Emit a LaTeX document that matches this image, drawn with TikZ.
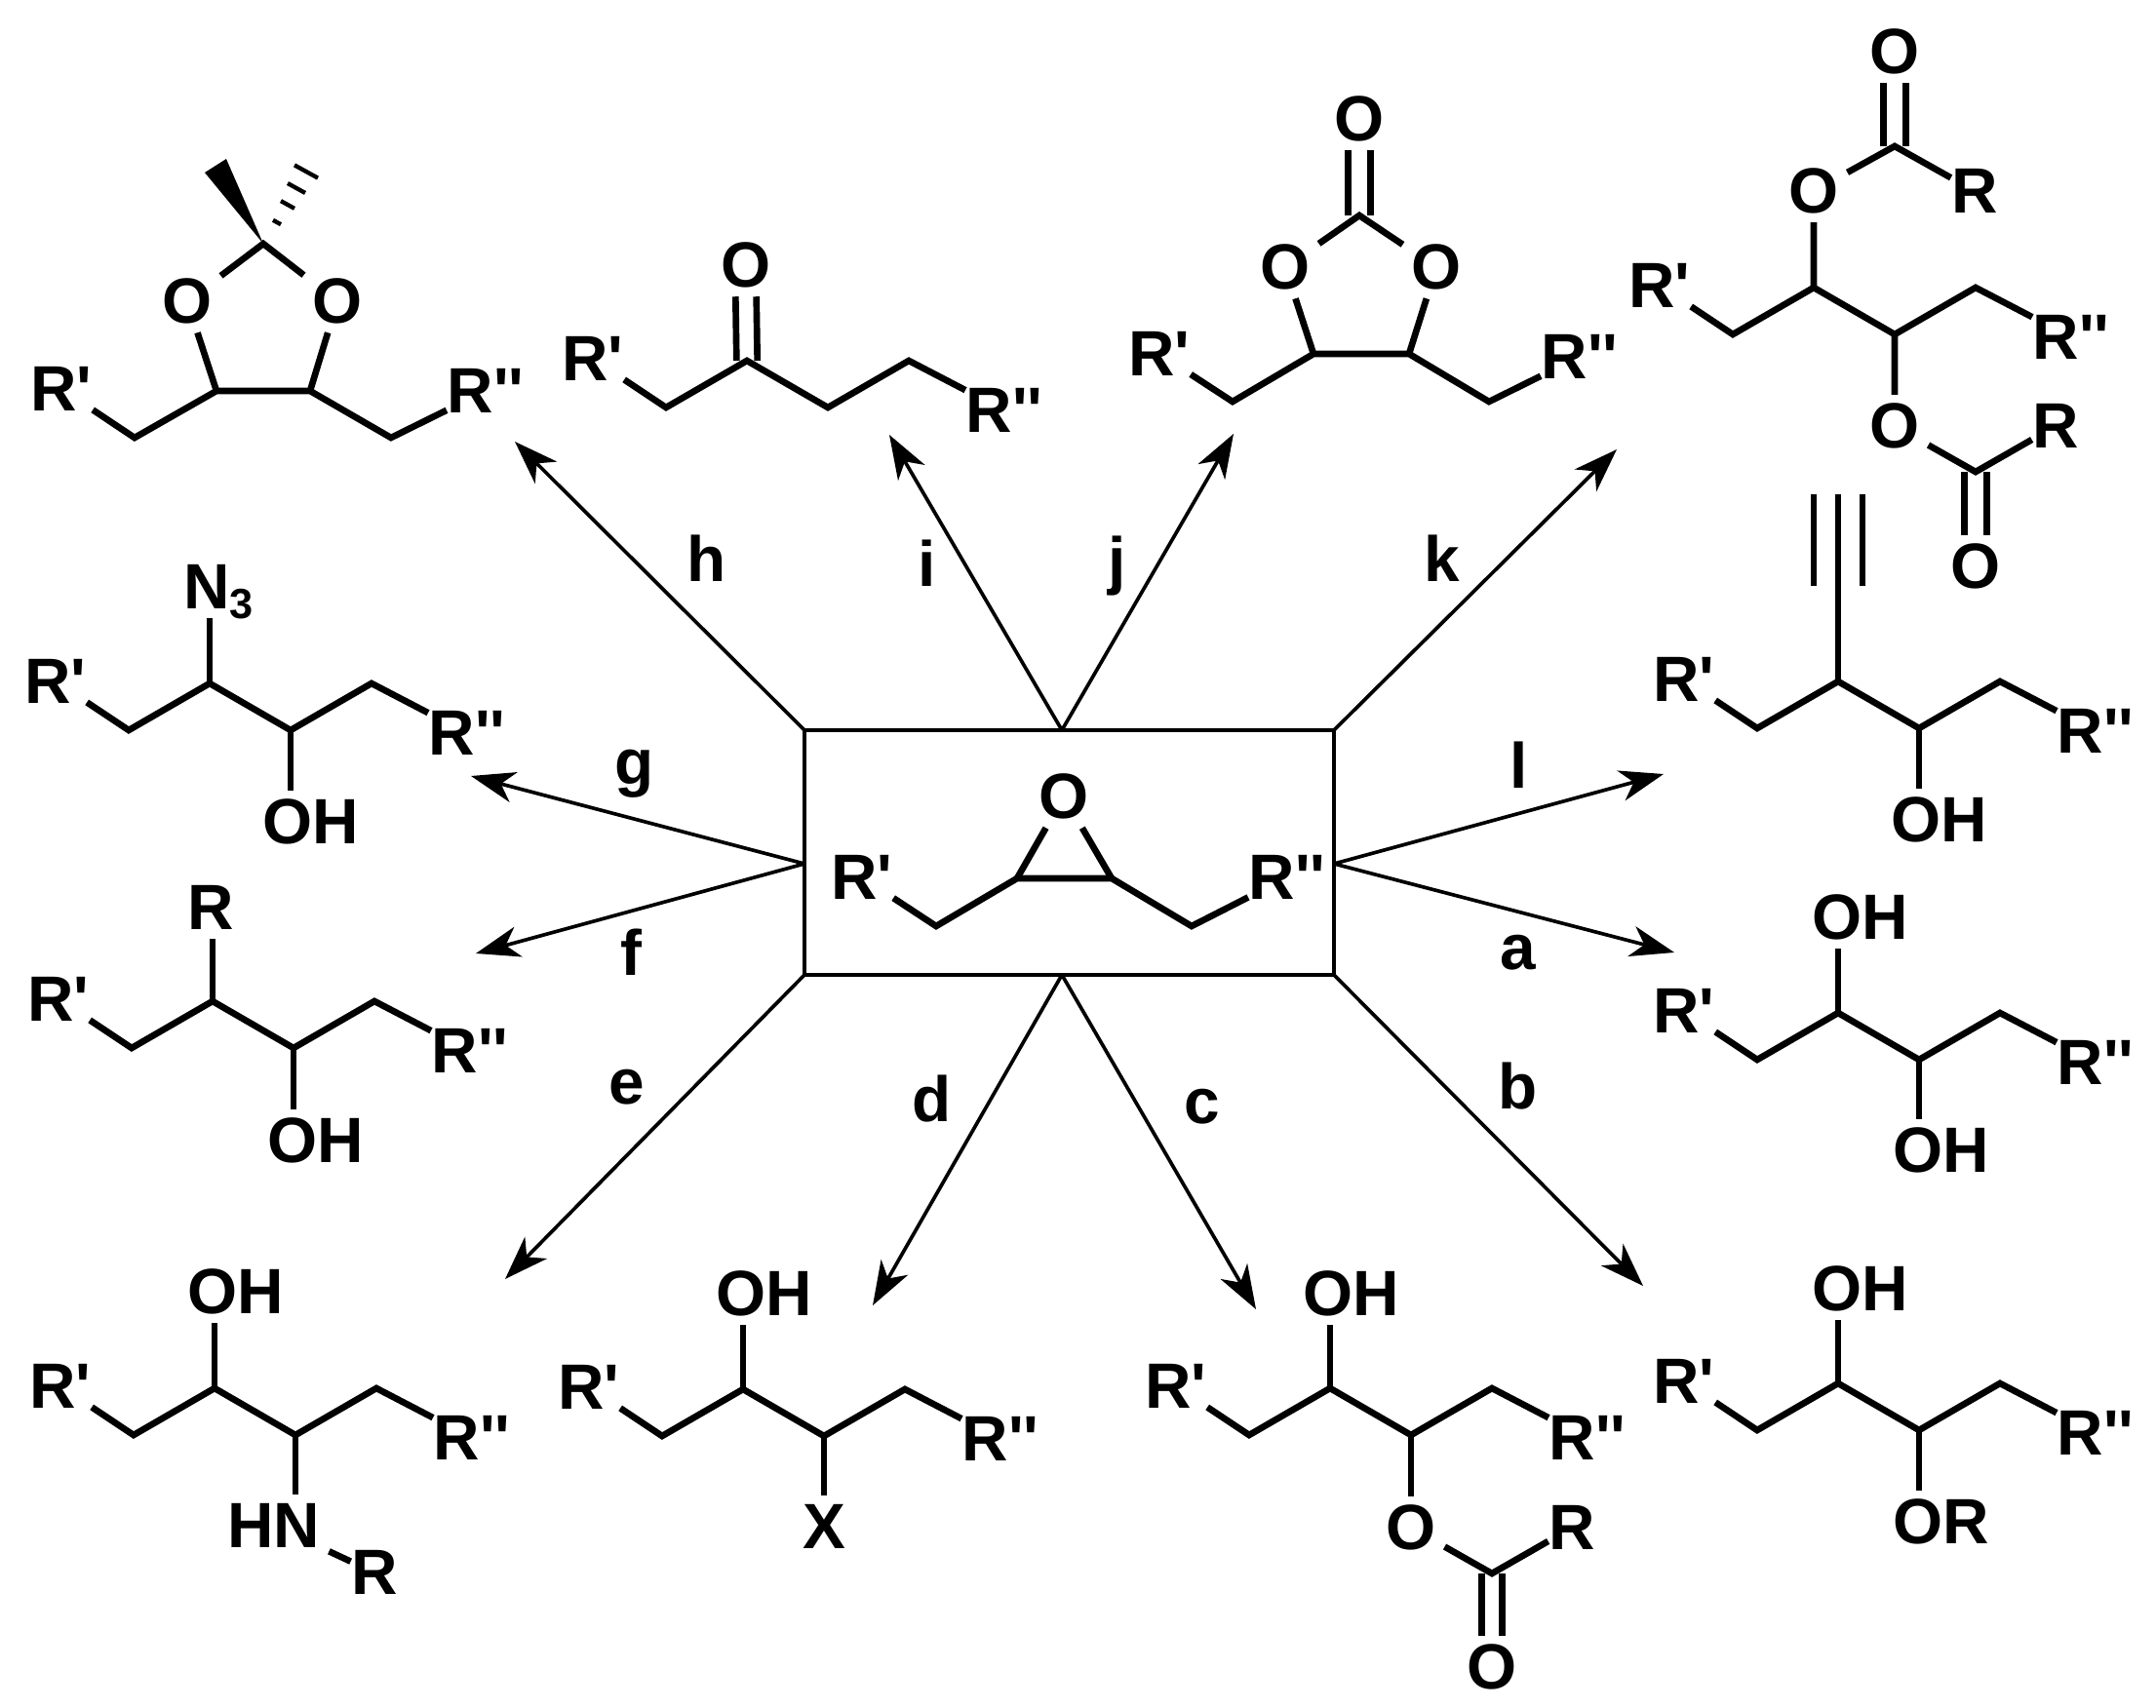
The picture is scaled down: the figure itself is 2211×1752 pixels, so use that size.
\documentclass[tikz,border=0pt]{standalone}
\usepackage{fontspec}
\setmainfont{Liberation Sans}
\usetikzlibrary{calc}
\usetikzlibrary{arrows.meta}
\newcommand{\rone}{R\textquotesingle}
\newcommand{\rtwo}{R\textquotesingle\textquotesingle}
\tikzset{
  every node/.style = {font=\fontsize{19.7}{20}\selectfont\bfseries},
  atom/.style = {inner sep=2.5pt},
  rest/.style = {inner sep=0pt},
  bond/.style = {line width=2pt},
  rxn/.style = {line width=1.1pt,-{Stealth[length=13.5pt,width=9.5pt,inset=4pt]}}
}
\newcommand{\skel}[3]{
  \coordinate (#1v1) at (#2,#3);
  \coordinate (#1v2) at ($(#1v1)+(83,-48)$);
  \coordinate (#1v3) at ($(#1v2)+(83,48)$);
  \coordinate (#1v4) at ($(#1v3)+(83,-48)$);
  \node[rest] (#1r1) at ($(#1v1)+(-75,-50)$) {\rone};
  \node[rest] (#1r2) at ($(#1v4)+(98,51)$) {\rtwo};
  \draw[bond] (#1r1) -- (#1v1) -- (#1v2) -- (#1v3) -- (#1v4) -- (#1r2);
}
\begin{document}
\begin{tikzpicture}[x=0.3pt,y=-0.3pt]
      \useasboundingbox (0,0) rectangle (2211,1752);
      \node[draw,line width=1.1pt,inner sep=0pt,outer sep=0pt,minimum width=162.9pt,minimum height=75.3pt]
        (box) at (1096.5,874.5) {};
      \coordinate (boxn) at (1089,749);
      \coordinate (boxs) at (1089,1000);
      \coordinate (boxw) at (825,886);
      \coordinate (boxe) at (1368,886);

      \node[atom] (epo) at (1091,817) {O};
      \node[rest] (epr1) at (884,900) {\rone};
      \node[rest] (epr2) at (1320,900) {\rtwo};
      \coordinate (epv1) at (960,950);
      \coordinate (epc1) at (1043,901);
      \coordinate (epc2) at (1140,901);
      \coordinate (epv4) at (1222,950);
      \draw[bond] (epr1) -- (epv1) -- (epc1) -- (epc2) -- (epv4) -- (epr2);
      \draw[bond] (epc1) -- (epo) -- (epc2);

      \foreach \lab/\from/\tox/\toy/\labx/\laby in {
        a/boxe/1717/977/1557/977,
        b/box.south east/1685/1319/1557/1114,
        c/boxs/1288/1343/1233/1135,
        d/boxs/895/1339/956/1127,
        e/box.south west/518/1312/643/1115,
        f/boxw/488/978/647/977,
        g/boxw/483/796/651/794,
        h/box.north west/528/453/725/573,
        i/boxn/912/446/951/578,
        j/boxn/1265/445/1146/581,
        k/box.north east/1658/461/1479/573,
        l/boxe/1706/794/1558/785}{
        \coordinate (end\lab) at (\tox,\toy);
        \draw[rxn] (\from) -- (end\lab);
        \node (lab\lab) at (\labx,\laby) {\lab};
      }

      \skel{a}{1802}{1087}
      \node[atom] (aoh1) at (1908,941) {OH};
      \node[atom] (aoh2) at (1991,1180) {OH};
      \draw[bond] (av2) -- (av2 |- aoh1.south);
      \draw[bond] (av3) -- (av3 |- aoh2.north);

      \skel{b}{1802}{1467}
      \node[atom] (boh) at (1908,1322) {OH};
      \node[atom] (bor) at (1991,1561) {OR};
      \draw[bond] (bv2) -- (bv2 |- boh.south);
      \draw[bond] (bv3) -- (bv3 |- bor.north);

      \skel{c}{1281}{1472}
      \node[atom] (coh) at (1386,1327) {OH};
      \node[atom] (co1) at (1447,1567) {O};
      \coordinate (cc) at (1530,1614);
      \node[rest] (crr) at (1612,1567) {R};
      \node[atom] (co2) at (1530,1710) {O};
      \draw[bond] (cv2) -- (cv2 |- coh.south);
      \draw[bond] (cv3) -- (co1);
      \draw[bond] (co1) -- (cc) -- (crr);
      \draw[bond] ([xshift=-3.2pt]cc) -- ([xshift=-3.2pt]co2.north);
      \draw[bond] ([xshift=3.2pt]cc) -- ([xshift=3.2pt]co2.north);

      \skel{d}{679}{1473}
      \node[atom] (doh) at (784,1327) {OH};
      \node[atom] (dx) at (845,1566) {X};
      \draw[bond] (dv2) -- (dv2 |- doh.south);
      \draw[bond] (dv3) -- (dv3 |- dx.north);

      \skel{e}{137}{1472}
      \node[atom] (eoh) at (242,1325) {OH};
      \node[atom] (ehn) at (281,1565) {HN};
      \node[rest] (err) at (384,1613) {R};
      \draw[bond] (ev2) -- (ev2 |- eoh.south);
      \draw[bond] (ev3) -- (ev3 |- ehn.north);
      \draw[bond] (ehn) -- (err);

      \skel{f}{135}{1075}
      \node[atom] (frr) at (216,931) {R};
      \node[atom] (foh) at (324,1170) {OH};
      \draw[bond] (fv2) -- (fv2 |- frr.south);
      \draw[bond] (fv3) -- (fv3 |- foh.north);

      \skel{g}{132}{749}
      \node[atom] (gn) at (224,602) {N\smash{\raisebox{-3pt}{\fontsize{13}{14}\selectfont 3}}};
      \node[atom] (goh) at (319,843) {OH};
      \draw[bond] (gv2) -- (gv2 |- gn.south);
      \draw[bond] (gv3) -- (gv3 |- goh.north);

      \coordinate (hv1) at (138,449);
      \coordinate (hv2) at (222,401);
      \coordinate (hv3) at (318,401);
      \coordinate (hv4) at (401,449);
      \coordinate (hc) at (270,250);
      \node[rest] (hr1) at (63,399) {\rone};
      \node[rest] (hr2) at (498,401) {\rtwo};
      \node[atom] (ho1) at (192,309) {O};
      \node[atom] (ho2) at (346,309) {O};
      \draw[bond] (hr1) -- (hv1) -- (hv2) -- (hv3) -- (hv4) -- (hr2);
      \draw[bond] (hv2) -- (ho1) -- (hc) -- (ho2) -- (hv3);
      \fill (hc) -- (210,177) -- (232,163) -- cycle;
      \foreach \x/\y/\w in {284/228/4,295/210/7,304/193/9,314/176/12}{
        \draw[line width=1.3pt] ({\x-\w},{\y-.55*\w}) -- ({\x+\w},{\y+.55*\w});
      }

      \skel{i}{683}{418}
      \node[atom] (io) at (765,272) {O};
      \draw[bond] ([xshift=-3.2pt]iv2) -- ([xshift=-3.2pt]io.south);
      \draw[bond] ([xshift=3.2pt]iv2) -- ([xshift=3.2pt]io.south);

      \coordinate (jv1) at (1264,412);
      \coordinate (jv2) at (1347,363);
      \coordinate (jv3) at (1445,363);
      \coordinate (jv4) at (1527,412);
      \coordinate (jc) at (1394,221);
      \node[rest] (jr1) at (1189,363) {\rone};
      \node[rest] (jr2) at (1620,366) {\rtwo};
      \node[atom] (jo1) at (1318,274) {O};
      \node[atom] (jo2) at (1473,274) {O};
      \node[atom] (jo3) at (1394,122) {O};
      \draw[bond] (jr1) -- (jv1) -- (jv2) -- (jv3) -- (jv4) -- (jr2);
      \draw[bond] (jv2) -- (jo1) -- (jc) -- (jo2) -- (jv3);
      \draw[bond] ([xshift=-3.4pt]jc) -- ([xshift=-3.4pt]jo3.south);
      \draw[bond] ([xshift=3.4pt]jc) -- ([xshift=3.4pt]jo3.south);

      \skel{k}{1777}{343}
      \node[atom] (ko1) at (1860,196) {O};
      \coordinate (kc1) at (1943,150);
      \node[rest] (kr1) at (2025,196) {R};
      \node[atom] (ko2) at (1943,53) {O};
      \node[atom] (ko3) at (1943,437) {O};
      \coordinate (kc2) at (2026,484);
      \node[rest] (kr2) at (2108,437) {R};
      \node[atom] (ko4) at (2026,581) {O};
      \draw[bond] (kv2) -- (ko1) -- (kc1) -- (kr1);
      \draw[bond] ([xshift=-3.4pt]kc1) -- ([xshift=-3.4pt]ko2.south);
      \draw[bond] ([xshift=3.4pt]kc1) -- ([xshift=3.4pt]ko2.south);
      \draw[bond] (kv3) -- (ko3) -- (kc2) -- (kr2);
      \draw[bond] ([xshift=-3.4pt]kc2) -- ([xshift=-3.4pt]ko4.north);
      \draw[bond] ([xshift=3.4pt]kc2) -- ([xshift=3.4pt]ko4.north);

      \skel{l}{1802}{747}
      \coordinate (lt) at (1885,507);
      \node[atom] (loh) at (1989,841) {OH};
      \draw[bond] (lv2) -- (lt);
      \draw[bond] ([xshift=-7.5pt]lt) -- ++(0,94);
      \draw[bond] ([xshift=7.5pt]lt) -- ++(0,94);
      \draw[bond] (lv3) -- (lv3 |- loh.north);
      \end{tikzpicture}
\end{document}
